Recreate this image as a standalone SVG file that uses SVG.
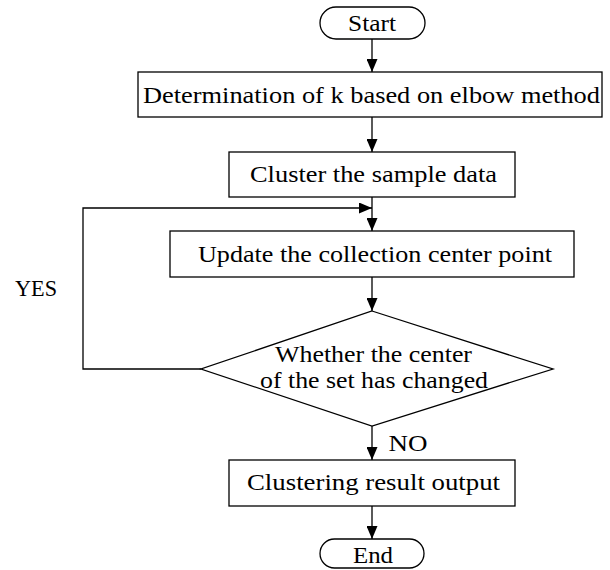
<svg xmlns="http://www.w3.org/2000/svg" width="610" height="570" viewBox="0 0 610 570">
  <style>
    .shape { fill: #ffffff; stroke: #000000; stroke-width: 1.3; }
    .link { fill: none; stroke: #000000; stroke-width: 1.3; }
    .label { font-family: "Liberation Serif", "DejaVu Serif", serif; font-size: 23px; fill: #000000; text-anchor: middle; }
  </style>
  <defs>
    <marker id="arrow" markerUnits="userSpaceOnUse" markerWidth="13" markerHeight="11" refX="13" refY="5.5" orient="auto">
      <path d="M0,0 L13,5.5 L0,11 Z" fill="#000000"/>
    </marker>
  </defs>

  <rect width="610" height="570" fill="#ffffff"/>

  <g id="connectors">
    <line class="link" x1="372" y1="39" x2="372" y2="72" marker-end="url(#arrow)"/>
    <line class="link" x1="372" y1="117" x2="372" y2="152" marker-end="url(#arrow)"/>
    <line class="link" x1="372" y1="197" x2="372" y2="231" marker-end="url(#arrow)"/>
    <polyline class="link" points="201,369 83,369 83,208 372,208" marker-end="url(#arrow)"/>
    <line class="link" x1="372" y1="277" x2="372" y2="311" marker-end="url(#arrow)"/>
    <line class="link" x1="372" y1="426" x2="372" y2="460" marker-end="url(#arrow)"/>
    <line class="link" x1="372" y1="506" x2="372" y2="539" marker-end="url(#arrow)"/>
    <text class="label" x="36" y="296" textLength="42" lengthAdjust="spacingAndGlyphs">YES</text>
    <text class="label" x="408" y="451" textLength="39" lengthAdjust="spacingAndGlyphs">NO</text>
  </g>

  <g id="start">
    <rect class="shape" x="320" y="7" width="105" height="32" rx="16" ry="16"/>
    <text class="label" x="372" y="31" textLength="48" lengthAdjust="spacingAndGlyphs">Start</text>
  </g>

  <g id="choose-k">
    <rect class="shape" x="138" y="72" width="464" height="45"/>
    <text class="label" x="371.5" y="103" textLength="457" lengthAdjust="spacingAndGlyphs">Determination of k based on elbow method</text>
  </g>

  <g id="cluster-samples">
    <rect class="shape" x="229" y="152" width="286" height="45"/>
    <text class="label" x="373.5" y="182" textLength="247" lengthAdjust="spacingAndGlyphs">Cluster the sample data</text>
  </g>

  <g id="update-centers">
    <rect class="shape" x="170" y="231" width="404" height="46"/>
    <text class="label" x="375" y="262" textLength="354" lengthAdjust="spacingAndGlyphs">Update the collection center point</text>
  </g>

  <g id="center-changed">
    <polygon class="shape" points="372,311 553,369 372,426 201,369"/>
    <text class="label" x="373.5" y="362" textLength="197" lengthAdjust="spacingAndGlyphs">Whether the center</text>
    <text class="label" x="374" y="388" textLength="228" lengthAdjust="spacingAndGlyphs">of the set has changed</text>
  </g>

  <g id="output">
    <rect class="shape" x="229" y="460" width="286" height="46"/>
    <text class="label" x="373.5" y="490" textLength="253" lengthAdjust="spacingAndGlyphs">Clustering result output</text>
  </g>

  <g id="end">
    <rect class="shape" x="320" y="539" width="104" height="29" rx="14.5" ry="14.5"/>
    <text class="label" x="373" y="563" textLength="40" lengthAdjust="spacingAndGlyphs">End</text>
  </g>
</svg>
